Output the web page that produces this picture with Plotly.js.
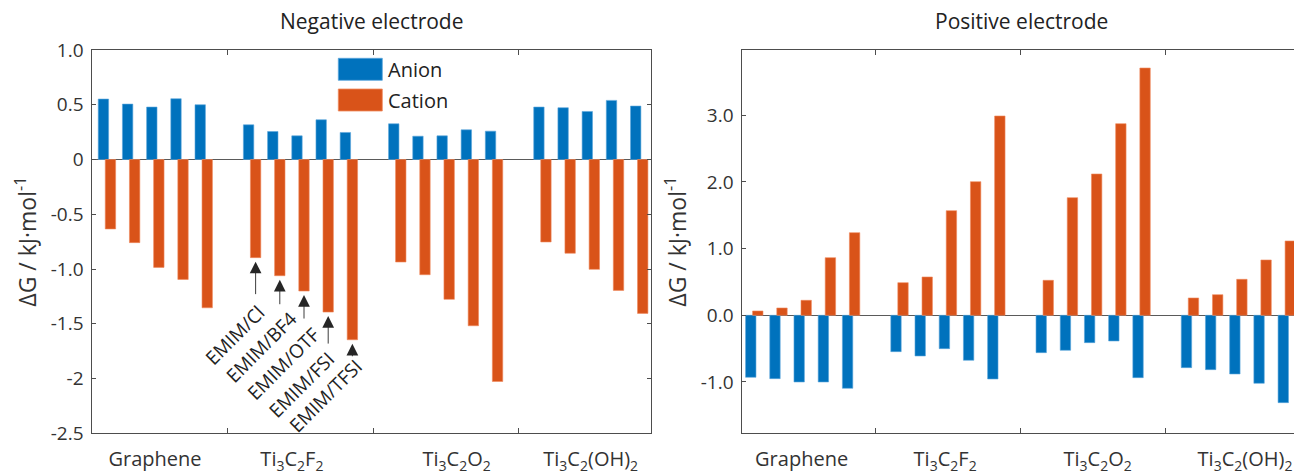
<!DOCTYPE html>
<html>
<head>
<meta charset="utf-8">
<script src="https://cdn.plot.ly/plotly-3.0.1.min.js"></script>
<style>
html, body { margin: 0; padding: 0; overflow: hidden; background: #fff; }
#chart { width: 1302px; height: 475px; }
</style>
</head>
<body>
<div id="chart"></div>
<script>
// ---------------- data ----------------
const categories = ['Graphene', 'Ti<sub>3</sub>C<sub>2</sub>F<sub>2</sub>', 'Ti<sub>3</sub>C<sub>2</sub>O<sub>2</sub>', 'Ti<sub>3</sub>C<sub>2</sub>(OH)<sub>2</sub>'];
const electrolytes = ['EMIM/Cl', 'EMIM/BF4', 'EMIM/OTF', 'EMIM/FSI', 'EMIM/TFSI'];
const seriesNames = ['Anion', 'Cation'];
const panelTitles = ['Negative electrode', 'Positive electrode'];

// Negative electrode (5 electrolytes per substrate)
const negAnion  = [0.552, 0.506, 0.479, 0.555, 0.500,
                   0.317, 0.256, 0.216, 0.363, 0.247,
                   0.326, 0.213, 0.216, 0.271, 0.259,
                   0.479, 0.473, 0.439, 0.540, 0.488];
const negCation = [-0.634, -0.759, -0.985, -1.095, -1.354,
                   -0.896, -1.061, -1.201, -1.393, -1.646,
                   -0.936, -1.052, -1.277, -1.518, -2.027,
                   -0.753, -0.856, -1.003, -1.195, -1.405];
// Positive electrode
const posAnion  = [-0.930, -0.950, -1.000, -1.000, -1.095,
                   -0.545, -0.610, -0.500, -0.675, -0.955,
                   -0.560, -0.525, -0.410, -0.385, -0.935,
                   -0.785, -0.815, -0.880, -1.020, -1.310];
const posCation = [0.065, 0.110, 0.225, 0.865, 1.240,
                   0.490, 0.575, 1.570, 2.005, 2.990,
                   0.525, 1.765, 2.120, 2.875, 3.710,
                   0.260, 0.310, 0.540, 0.830, 1.115];

const negYTickVals = [-2.5, -2, -1.5, -1, -0.5, 0, 0.5, 1];
const negYTickText = ['-2.5', '-2', '-1.5', '-1.0', '-0.5', '0', '0.5', '1.0'];
const posYTickVals = [-1, 0, 1, 2, 3];
const posYTickText = ['-1.0', '0.0', '1.0', '2.0', '3.0'];

// ---------------- layout helpers (positions / styles) ----------------
const W = 1302, H = 475;
const BLUE = '#0072BD', ORANGE = '#D95319', TXT = '#333333', AX = '#4d4d4d';
const FONT = 'Open Sans, Noto Sans, sans-serif';
const nPer = electrolytes.length, groupStep = nPer + 1, cationOffset = 0.29, barW = 0.43;
const negLabelPos = [2.13, 7.79, 14.60, 20.14];
const posLabelPos = [2.10, 8.03, 14.33, 20.42];
const arrowLen = [34, 26, 25, 29, 14];
const labelShift = [[-20.5, 77.5], [-18.5, 71.0], [-21.0, 72.5], [-27.0, 72.5], [-27.0, 56.0]];
const annotatedGroup = 1;

const xAnion = [], xCation = [];
for (let g = 0; g < categories.length; g++) {
  for (let k = 0; k < nPer; k++) {
    xAnion.push(g * groupStep + k);
    xCation.push(g * groupStep + k + cationOffset);
  }
}
const dividers = [];
for (let g = 1; g < categories.length; g++) dividers.push((xCation[g * nPer - 1] + xAnion[g * nPer]) / 2);

function bar(x, y, color, name, xa, ya) {
  return { type: 'bar', x: x, y: y, width: barW, name: name, xaxis: xa, yaxis: ya,
           marker: { color: color, line: { width: 0.6, color: color === BLUE ? '#5aa6dc' : '#f08a5e' } },
           showlegend: false, hoverinfo: 'x+y' };
}
const traces = [
  bar(xAnion, negAnion, BLUE, seriesNames[0], 'x', 'y'),
  bar(xCation, negCation, ORANGE, seriesNames[1], 'x', 'y'),
  bar(xAnion, posAnion, BLUE, seriesNames[0], 'x2', 'y2'),
  bar(xCation, posCation, ORANGE, seriesNames[1], 'x2', 'y2')
];

function xAxis(domain, range, labelPos, anchor) {
  return {
    domain: domain, range: range, anchor: anchor, showgrid: false, zeroline: false,
    showline: true, linecolor: AX, linewidth: 1, mirror: 'ticks',
    tickmode: 'array', tickvals: labelPos, ticktext: categories, ticks: '', ticklen: 0,
    ticklabelstandoff: 8,
    tickfont: { family: FONT, size: 20, color: TXT },
    minor: { tickmode: 'array', tickvals: dividers, ticks: 'inside', ticklen: 5, tickcolor: AX, tickwidth: 1 },
    fixedrange: true
  };
}
function yAxis(domain, range, tv, tt, anchor) {
  return {
    domain: domain, range: range, anchor: anchor, showgrid: false,
    zeroline: true, zerolinecolor: '#5a5a5a', zerolinewidth: 1,
    showline: true, linecolor: AX, linewidth: 1, mirror: 'ticks',
    tickmode: 'array', tickvals: tv, ticktext: tt, ticks: 'inside', ticklen: 4, tickcolor: AX,
    ticklabelstandoff: 4,
    tickfont: { family: FONT, size: 19, color: TXT },
    title: { text: 'ΔG / kJ·mol<sup>-1</sup>', font: { family: FONT, size: 23, color: TXT }, standoff: 7 },
    automargin: false, fixedrange: true
  };
}

const yDom = [1 - 433.3 / H, 1 - 50 / H];
const leftDom = [92.3 / W, 650.7 / W];
const rightDom = [742.3 / W, 1300.7 / W];

const annotations = [];
// panel titles
annotations.push({ xref: 'paper', yref: 'paper', x: (leftDom[0] + leftDom[1]) / 2, y: 1 - 21 / H,
  text: panelTitles[0], showarrow: false, xanchor: 'center', yanchor: 'middle',
  font: { family: FONT, size: 21, color: '#222' } });
annotations.push({ xref: 'paper', yref: 'paper', x: (rightDom[0] + rightDom[1]) / 2, y: 1 - 21 / H,
  text: panelTitles[1], showarrow: false, xanchor: 'center', yanchor: 'middle',
  font: { family: FONT, size: 21, color: '#222' } });
// electrolyte arrows + labels
for (let k = 0; k < nPer; k++) {
  const i = annotatedGroup * nPer + k;
  annotations.push({ xref: 'x', yref: 'y', x: xCation[i], y: negCation[i], text: '',
    showarrow: true, arrowhead: 2, arrowsize: 2.6, arrowwidth: 0.9, arrowcolor: '#262626',
    ax: 0, ay: arrowLen[k], yshift: -4, standoff: 0, startstandoff: 0 });
  annotations.push({ xref: 'x', yref: 'y', x: xCation[i], y: negCation[i], text: electrolytes[k],
    showarrow: false, textangle: -45, xshift: labelShift[k][0], yshift: -labelShift[k][1],
    xanchor: 'center', yanchor: 'middle', font: { family: FONT, size: 19, color: '#222' } });
}
// legend text
annotations.push({ xref: 'paper', yref: 'paper', x: 386 / W, y: 1 - 69.3 / H, text: seriesNames[0],
  showarrow: false, xanchor: 'left', yanchor: 'middle', font: { family: FONT, size: 20, color: '#222' } });
annotations.push({ xref: 'paper', yref: 'paper', x: 386 / W, y: 1 - 100 / H, text: seriesNames[1],
  showarrow: false, xanchor: 'left', yanchor: 'middle', font: { family: FONT, size: 20, color: '#222' } });

const shapes = [
  { type: 'rect', xref: 'paper', yref: 'paper', x0: 338.3 / W, x1: 382.3 / W, y0: 1 - 80.3 / H, y1: 1 - 58.3 / H,
    fillcolor: BLUE, line: { width: 0.8, color: '#5aa6dc' } },
  { type: 'rect', xref: 'paper', yref: 'paper', x0: 338.3 / W, x1: 382.3 / W, y0: 1 - 111 / H, y1: 1 - 89 / H,
    fillcolor: ORANGE, line: { width: 0.8, color: '#f08a5e' } }
];

const layout = {
  width: W, height: H, margin: { l: 0, r: 0, t: 0, b: 0 },
  paper_bgcolor: '#ffffff', plot_bgcolor: '#ffffff',
  barmode: 'overlay', showlegend: false,
  font: { family: FONT, color: TXT },
  xaxis: xAxis(leftDom, [-0.46, 22.62], negLabelPos, 'y'),
  yaxis: yAxis(yDom, [-2.5, 1.0], negYTickVals, negYTickText, 'x'),
  xaxis2: xAxis(rightDom, [-0.35, 22.72], posLabelPos, 'y2'),
  yaxis2: yAxis(yDom, [-1.77, 3.98], posYTickVals, posYTickText, 'x2'),
  annotations: annotations,
  shapes: shapes
};

Plotly.newPlot('chart', traces, layout, { displayModeBar: false, staticPlot: true });
</script>
</body>
</html>
